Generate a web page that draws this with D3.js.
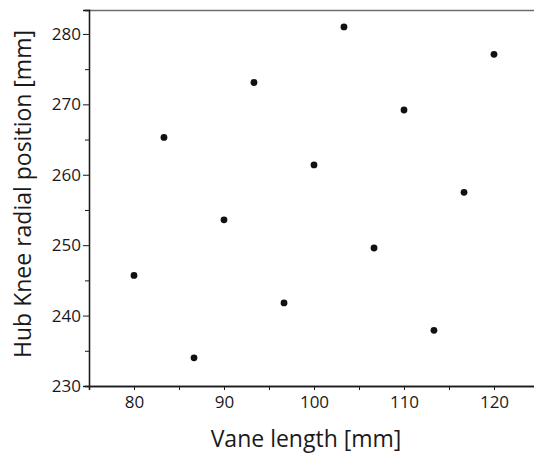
<!DOCTYPE html>
<html lang="en">
    <head>
        <meta charset="utf-8">
        <title>Hub Knee radial position vs Vane length</title>
        <script type="text/javascript" src="https://d3js.org/d3.v7.min.js"></script>
        <style type="text/css">
            body {
                margin: 0;
                background: #ffffff;
            }
            svg {
                font-family: 'Open Sans', 'Noto Sans', sans-serif;
            }
        </style>
    </head>
    <body>
        <script type="text/javascript">

            // data
            const vaneLength = [80, 83.33, 86.67, 90, 93.33, 96.67, 100, 103.33, 106.67, 110, 113.33, 116.67, 120];
            const kneeRadial = [245.7, 265.3, 234.0, 253.6, 273.1, 241.8, 261.4, 281.0, 249.6, 269.2, 237.9, 257.5, 277.1];
            const xTicks = [80, 90, 100, 110, 120];
            const yTicks = [230, 240, 250, 260, 270, 280];

            const W = 534, H = 455;
            const margin = {top: 10, right: -5, bottom: 69, left: 89};
            const width = W - margin.left - margin.right,
                  height = H - margin.top - margin.bottom;

            const svg = d3.select("body")
                    .append("svg")
                    .attr("width", W)
                    .attr("height", H);

            const g = svg.append("g")
                    .attr("transform", "translate(" + margin.left + "," + margin.top + ")");

            const xScale = d3.scaleLinear()
                    .domain([75, 125])
                    .range([0, width]);

            const yScale = d3.scaleLinear()
                    .domain([230, 283.4])
                    .range([height, 0]);

            // top frame line
            g.append("line")
                .attr("x1", 0).attr("x2", width)
                .attr("y1", 0.5).attr("y2", 0.5)
                .attr("stroke", "#6e6e6e")
                .attr("stroke-width", 1.5);

            // minor ticks
            const xMinor = d3.axisBottom(xScale)
                    .tickValues(d3.range(75, 126, 5))
                    .tickSize(4)
                    .tickFormat("");
            const yMinor = d3.axisLeft(yScale)
                    .tickValues(d3.range(235, 284, 10))
                    .tickSize(4)
                    .tickFormat("");

            g.append("g")
                .attr("transform", "translate(0," + height + ")")
                .call(xMinor);
            g.append("g").call(yMinor);

            // major axes
            const xAxis = d3.axisBottom(xScale)
                    .tickValues(xTicks)
                    .tickSize(4)
                    .tickPadding(6);
            const yAxis = d3.axisLeft(yScale)
                    .tickValues(yTicks)
                    .tickSize(6)
                    .tickPadding(2);

            const gx = g.append("g")
                .attr("transform", "translate(0," + height + ")")
                .call(xAxis);
            const gy = g.append("g").call(yAxis);

            g.selectAll(".domain, .tick line")
                .attr("stroke", "#1a1a1a");
            g.selectAll(".domain").attr("stroke-width", 1.3);

            gx.selectAll("text")
                .attr("font-size", "17px")
                .attr("fill", "#1a1a1a")
                .attr("font-family", "'Open Sans', sans-serif");
            gy.selectAll("text")
                .attr("font-size", "17px")
                .attr("fill", "#1a1a1a")
                .attr("font-family", "'Open Sans', sans-serif");

            // points
            g.selectAll("circle.pt")
                .data(vaneLength)
                .join("circle")
                .attr("class", "pt")
                .attr("cx", d => xScale(d))
                .attr("cy", (d, i) => yScale(kneeRadial[i]))
                .attr("r", 3.4)
                .attr("fill", "#111");

            // axis titles
            svg.append("text")
                .attr("x", 306)
                .attr("y", 447)
                .attr("text-anchor", "middle")
                .attr("font-size", "23px")
                .attr("fill", "#1a1a1a")
                .text("Vane length [mm]");

            svg.append("text")
                .attr("transform", "translate(31,194) rotate(-90)")
                .attr("text-anchor", "middle")
                .attr("font-size", "23px")
                .attr("fill", "#1a1a1a")
                .text("Hub Knee radial position [mm]");

        </script>
    </body>
</html>
